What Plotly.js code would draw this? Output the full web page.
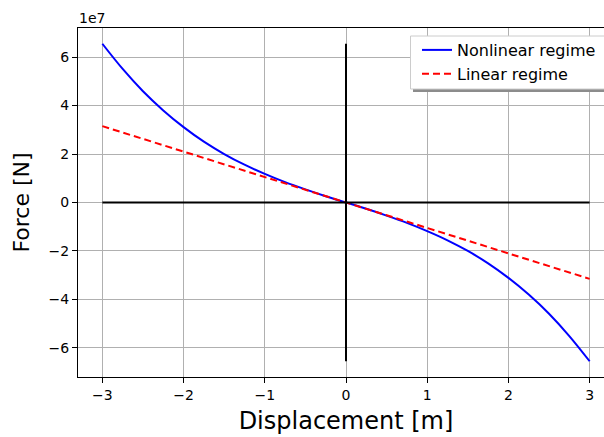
<!DOCTYPE html>
<html>
<head>
<meta charset="utf-8">
<script src="https://cdn.plot.ly/plotly-3.0.1.min.js"></script>
<style>
html, body { margin: 0; padding: 0; overflow: hidden; background: #fff; }
#chart { width: 640px; height: 437px; }
</style>
</head>
<body>
<div id="chart"></div>
<script>
// Displacement [m]
const displacement = [-3, -2.75, -2.5, -2.25, -2, -1.75, -1.5, -1.25, -1, -0.75, -0.5, -0.25, 0,
                      0.25, 0.5, 0.75, 1, 1.25, 1.5, 1.75, 2, 2.25, 2.5, 2.75, 3];
// Nonlinear regime force, in units of 1e7 N
const nonlinearForce = [6.55, 5.51, 4.59, 3.80, 3.11, 2.51, 2.00, 1.56, 1.18, 0.84, 0.54, 0.26, 0,
                        -0.26, -0.54, -0.84, -1.18, -1.56, -2.00, -2.51, -3.11, -3.80, -4.59, -5.51, -6.55];
// Linear regime force, in units of 1e7 N
const linearX = [-3, -2, -1, 0, 1, 2, 3];
const linearForce = [3.15, 2.10, 1.05, 0, -1.05, -2.10, -3.15];
// Reference axes lines
const hLineX = [-3, 3];
const hLineY = [0, 0];
const vLineX = [0, 0];
const vLineY = [-6.55, 6.55];
const yTickVals = [-6, -4, -2, 0, 2, 4, 6];
const yTickText = ['−6', '−4', '−2', '0', '2', '4', '6'];
const xTickVals = [-3, -2, -1, 0, 1, 2, 3];
const xTickText = ['−3', '−2', '−1', '0', '1', '2', '3'];

const FONT = 'DejaVu Sans, sans-serif';

const traces = [
  { x: displacement, y: nonlinearForce, type: 'scatter', mode: 'lines', name: 'Nonlinear regime',
    line: { color: '#0000ff', width: 2, shape: 'spline', smoothing: 1 } },
  { x: linearX, y: linearForce, type: 'scatter', mode: 'lines', name: 'Linear regime',
    line: { color: '#ff0000', width: 2, dash: '7px,4px' } },
  { x: hLineX, y: hLineY, type: 'scatter', mode: 'lines', showlegend: false, hoverinfo: 'skip',
    line: { color: '#000000', width: 2 } },
  { x: vLineX, y: vLineY, type: 'scatter', mode: 'lines', showlegend: false, hoverinfo: 'skip',
    line: { color: '#000000', width: 2 } }
];

// plot area geometry (px) used to place the legend frame in paper coordinates
const L = 78, B = 377, PW = 536, PH = 349;
const px = v => (v - L) / PW;
const py = v => (B - v) / PH;

const layout = {
  width: 640, height: 437,
  margin: { l: 78, r: 26, t: 28, b: 60, pad: 0 },
  paper_bgcolor: '#ffffff', plot_bgcolor: '#ffffff',
  font: { family: FONT, size: 14, color: '#000000' },
  showlegend: true,
  xaxis: {
    range: [-3.3, 3.3], tickvals: xTickVals, ticktext: xTickText,
    showgrid: true, gridcolor: '#b0b0b0', gridwidth: 1, zeroline: false,
    showline: true, linecolor: '#000000', linewidth: 1, mirror: true,
    ticks: 'outside', ticklen: 5, tickwidth: 1, tickcolor: '#000000',
    tickfont: { family: FONT, size: 14, color: '#000000' },
    title: { text: 'Displacement [m]', font: { family: FONT, size: 24, color: '#000000' }, standoff: 10 }
  },
  yaxis: {
    range: [-7.2, 7.2], tickvals: yTickVals, ticktext: yTickText,
    showgrid: true, gridcolor: '#b0b0b0', gridwidth: 1, zeroline: false,
    showline: true, linecolor: '#000000', linewidth: 1, mirror: true,
    ticks: 'outside', ticklen: 5, tickwidth: 1, tickcolor: '#000000',
    tickfont: { family: FONT, size: 14, color: '#000000' },
    title: { text: 'Force [N]', font: { family: FONT, size: 22, color: '#000000' }, standoff: 12 }
  },
  legend: {
    x: px(417), y: py(33), xanchor: 'left', yanchor: 'top',
    bgcolor: 'rgba(0,0,0,0)', borderwidth: 0,
    font: { family: FONT, size: 16, color: '#000000' },
    tracegroupgap: 0, itemwidth: 30
  },
  annotations: [
    { text: '1e7', xref: 'paper', yref: 'paper', x: 0, y: 1, xanchor: 'left', yanchor: 'bottom',
      showarrow: false, font: { family: FONT, size: 14, color: '#000000' }, xshift: -1, yshift: 0 }
  ],
  shapes: [
    { type: 'rect', xref: 'paper', yref: 'paper', layer: 'above',
      x0: px(413), x1: 1.2, y0: py(92), y1: py(39),
      fillcolor: '#8c8c8c', line: { width: 0 } },
    { type: 'rect', xref: 'paper', yref: 'paper', layer: 'above',
      x0: px(410.5), x1: 1.2, y0: py(89), y1: py(36),
      fillcolor: '#ffffff', line: { color: '#cccccc', width: 1 } }
  ]
};

Plotly.newPlot('chart', traces, layout, { displayModeBar: false, staticPlot: true });
</script>
</body>
</html>
